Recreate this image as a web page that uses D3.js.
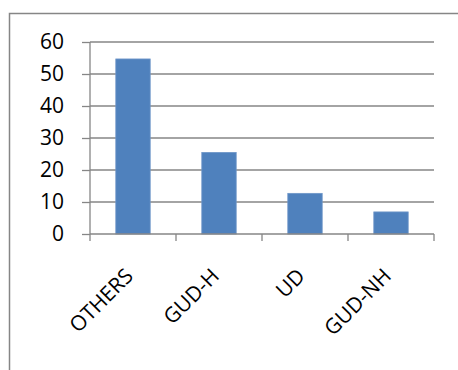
<!DOCTYPE html>
<html>
<head>
<meta charset="utf-8">
<script src="https://cdn.jsdelivr.net/npm/d3@7"></script>
<style>
  body { margin: 0; background: #fff; }
  text { font-family: "Open Sans", sans-serif; fill: #000; }
</style>
</head>
<body>
<script>
var categories = ["OTHERS", "GUD-H", "UD", "GUD-NH"];
var values = [54.7, 25.5, 12.7, 6.9];
var yTicks = [0, 10, 20, 30, 40, 50, 60];

var width = 458, height = 370;
var plot = { left: 90, right: 434, top: 42, bottom: 234 };

var svg = d3.select("body").append("svg")
  .attr("width", width)
  .attr("height", height);

// outer chart frame, runs off the right and bottom edge
svg.append("rect")
  .attr("x", 9.5).attr("y", 13.5)
  .attr("width", 470).attr("height", 380)
  .attr("fill", "none")
  .attr("stroke", "#868686")
  .attr("stroke-width", 1.5);

var x = d3.scaleBand().domain(categories).range([plot.left, plot.right]).padding(0);
var y = d3.scaleLinear().domain([0, 60]).range([plot.bottom, plot.top]);

// gridlines
svg.append("g").selectAll("line")
  .data(yTicks.filter(function (d) { return d > 0; }))
  .enter().append("line")
  .attr("x1", plot.left).attr("x2", plot.right)
  .attr("y1", function (d) { return y(d); })
  .attr("y2", function (d) { return y(d); })
  .attr("stroke", "#868686")
  .attr("stroke-width", 1.3);

// bars
var barW = x.bandwidth() * 0.4;
svg.append("g").selectAll("rect")
  .data(values).enter()
  .append("rect")
  .attr("x", function (d, i) { return x(categories[i]) + (x.bandwidth() - barW) / 2; })
  .attr("y", function (d) { return y(d); })
  .attr("width", barW)
  .attr("height", function (d) { return y(0) - y(d); })
  .attr("fill", "#4f81bd")
  .attr("stroke", "#6f96c8")
  .attr("stroke-width", 0.8);

// y axis
var yAxis = d3.axisLeft(y).tickValues(yTicks).tickSize(8).tickPadding(18);
var gy = svg.append("g")
  .attr("transform", "translate(" + plot.left + ",0)")
  .call(yAxis);
gy.select(".domain").remove();
gy.selectAll(".tick line").attr("stroke", "#868686").attr("stroke-width", 1.3);
gy.selectAll(".tick text").attr("font-size", 21).attr("font-family", "Open Sans");
svg.append("line")
  .attr("x1", plot.left).attr("x2", plot.left)
  .attr("y1", plot.top).attr("y2", plot.bottom)
  .attr("stroke", "#868686").attr("stroke-width", 1.3);

// x axis line and boundary ticks
svg.append("line")
  .attr("x1", plot.left).attr("x2", plot.right)
  .attr("y1", plot.bottom).attr("y2", plot.bottom)
  .attr("stroke", "#868686").attr("stroke-width", 1.3);
var bounds = categories.map(function (c) { return x(c); }).concat([plot.right]);
svg.append("g").selectAll("line")
  .data(bounds).enter()
  .append("line")
  .attr("x1", function (d) { return d; }).attr("x2", function (d) { return d; })
  .attr("y1", plot.bottom).attr("y2", plot.bottom + 7)
  .attr("stroke", "#868686").attr("stroke-width", 1.3);

// rotated category labels
svg.append("g").selectAll("text")
  .data(categories).enter()
  .append("text")
  .attr("transform", function (d) {
    return "translate(" + (x(d) + x.bandwidth() / 2 - 9) + "," + (plot.bottom + 33) + ") rotate(-45)";
  })
  .attr("text-anchor", "end")
  .attr("dy", "0.7em")
  .attr("font-size", 21)
  .text(function (d) { return d; });
</script>
</body>
</html>
